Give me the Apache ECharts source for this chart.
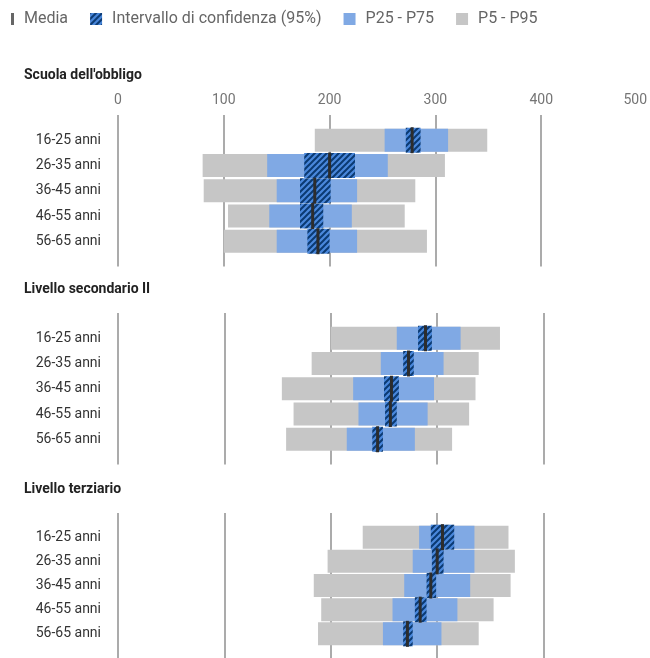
<!DOCTYPE html>
<html>
<head>
<meta charset="utf-8">
<script src="https://cdn.jsdelivr.net/npm/echarts@6/dist/echarts.min.js"></script>
<style>
html,body{margin:0;padding:0;background:#fff;}
#chart{width:650px;height:658px;}
</style>
</head>
<body>
<div id="chart"></div>
<script>
// ---- Data ----
const categories = ['16-25 anni', '26-35 anni', '36-45 anni', '46-55 anni', '56-65 anni'];
const panels = ["Scuola dell'obbligo", 'Livello secondario II', 'Livello terziario'];
const xTicks = [0, 100, 200, 300, 400, 500];
const seriesNames = ['Media', 'Intervallo di confidenza (95%)', 'P25 - P75', 'P5 - P95'];

const p5   = [[186, 80, 81, 104, 100], [200, 182, 154, 165, 158], [230, 197, 184, 191, 188]];
const p95  = [[349, 309, 281, 271, 292], [359, 339, 336, 330, 314], [367, 373, 369, 353, 339]];
const p25  = [[252, 141, 150, 143, 150], [262, 247, 221, 226, 215], [283, 277, 269, 258, 249]];
const p75  = [[312, 255, 226, 221, 226], [322, 306, 297, 291, 279], [335, 335, 331, 319, 304]];
const ciLo = [[272, 176, 172, 172, 179], [282, 268, 250, 251, 239], [294, 295, 290, 279, 268]];
const ciHi = [[286, 224, 201, 194, 200], [295, 278, 264, 262, 249], [316, 306, 299, 290, 277]];
const mean = [[278, 200, 186, 184, 189], [289, 273, 257, 256, 244], [305, 300, 294, 284, 272]];

// ---- Styles ----
const GRAY = '#c6c6c6';
const BLUE = '#80a9e4';
const MEAN = '#2d2d2d';
const FONT = 'Roboto, "Noto Sans", sans-serif';

function makeHatch() {
  const s = 6;
  const c = document.createElement('canvas');
  c.width = s; c.height = s;
  const ctx = c.getContext('2d');
  ctx.fillStyle = '#4a88dc';
  ctx.fillRect(0, 0, s, s);
  ctx.strokeStyle = '#0b3a72';
  ctx.lineWidth = 2;
  ctx.beginPath();
  for (let k = -1; k <= 1; k++) {
    ctx.moveTo(k * s - 1, s + 1);
    ctx.lineTo(k * s + s + 1, -1);
  }
  ctx.stroke();
  return c;
}
const HATCH = { image: makeHatch(), repeat: 'repeat' };

const yData = [''].concat(categories, ['']);
const gridTops = [115, 313, 513];
const gridH = 151.5;
const titleTops = [63, 277, 477];

const grids = [], xAxes = [], yAxes = [], series = [], titles = [];

function rectRender(lo, hi, h, fill) {
  return function (params, api) {
    const i = api.value(0);
    const a = api.coord([lo[i], i + 1]);
    const b = api.coord([hi[i], i + 1]);
    return {
      type: 'rect',
      shape: { x: a[0], y: a[1] - h / 2, width: b[0] - a[0], height: h },
      style: { fill: fill }
    };
  };
}

panels.forEach(function (name, p) {
  titles.push({
    text: name, left: 19, top: titleTops[p],
    textStyle: { fontFamily: FONT, fontSize: 14, fontWeight: 'bold', color: '#222' }
  });
  grids.push({ left: 118, width: 533, top: gridTops[p], height: gridH });
  xAxes.push({
    type: 'value', gridIndex: p, position: 'top', min: xTicks[0], max: xTicks[xTicks.length - 1], interval: 100,
    axisLine: { show: false }, axisTick: { show: false },
    axisLabel: { show: p === 0, color: '#757575', fontSize: 14, fontFamily: FONT, margin: 8, alignMaxLabel: 'right' },
    splitLine: { show: true, showMaxLine: false, lineStyle: { color: '#8f8f8f', width: 1.5 } }
  });
  yAxes.push({
    type: 'category', gridIndex: p, data: yData, inverse: true, boundaryGap: false,
    axisLine: { show: false }, axisTick: { show: false }, splitLine: { show: false },
    axisLabel: { color: '#333', fontSize: 14, fontFamily: FONT, margin: 17 }
  });
  const idx = categories.map(function (c, i) { return [i]; });
  series.push({
    type: 'custom', name: 'P5 - P95', xAxisIndex: p, yAxisIndex: p, data: idx,
    itemStyle: { color: GRAY }, renderItem: rectRender(p5[p], p95[p], 23, GRAY), z: 2, silent: true
  });
  series.push({
    type: 'custom', name: 'P25 - P75', xAxisIndex: p, yAxisIndex: p, data: idx,
    itemStyle: { color: BLUE }, renderItem: rectRender(p25[p], p75[p], 23, BLUE), z: 3, silent: true
  });
  series.push({
    type: 'custom', name: 'Intervallo di confidenza (95%)', xAxisIndex: p, yAxisIndex: p, data: idx,
    itemStyle: { color: HATCH }, renderItem: rectRender(ciLo[p], ciHi[p], 25, HATCH), z: 4, silent: true
  });
  series.push({
    type: 'custom', name: 'Media', xAxisIndex: p, yAxisIndex: p, data: idx,
    itemStyle: { color: MEAN },
    renderItem: function (params, api) {
      const i = api.value(0);
      const a = api.coord([mean[p][i], i + 1]);
      return { type: 'rect', shape: { x: a[0] - 1.5, y: a[1] - 13, width: 3, height: 26 }, style: { fill: MEAN } };
    },
    z: 5, silent: true
  });
});

const chart = echarts.init(document.getElementById('chart'), null, { renderer: 'canvas' });
chart.setOption({
  animation: false,
  backgroundColor: '#fff',
  title: titles,
  legend: {
    left: 2, top: 11, padding: 0, itemWidth: 12, itemHeight: 12, itemGap: 22, selectedMode: false,
    textStyle: { color: '#666', fontSize: 16, fontFamily: FONT, padding: [0, 0, 0, 5] },
    data: [
      { name: seriesNames[0], icon: 'path://M0,0h0.1v0.1h-0.1z M9,0h3v12h-3z', itemStyle: { color: '#666' } },
      { name: seriesNames[1], icon: 'rect' },
      { name: seriesNames[2], icon: 'rect' },
      { name: seriesNames[3], icon: 'rect' }
    ]
  },
  grid: grids,
  xAxis: xAxes,
  yAxis: yAxes,
  series: series
});
</script>
</body>
</html>
